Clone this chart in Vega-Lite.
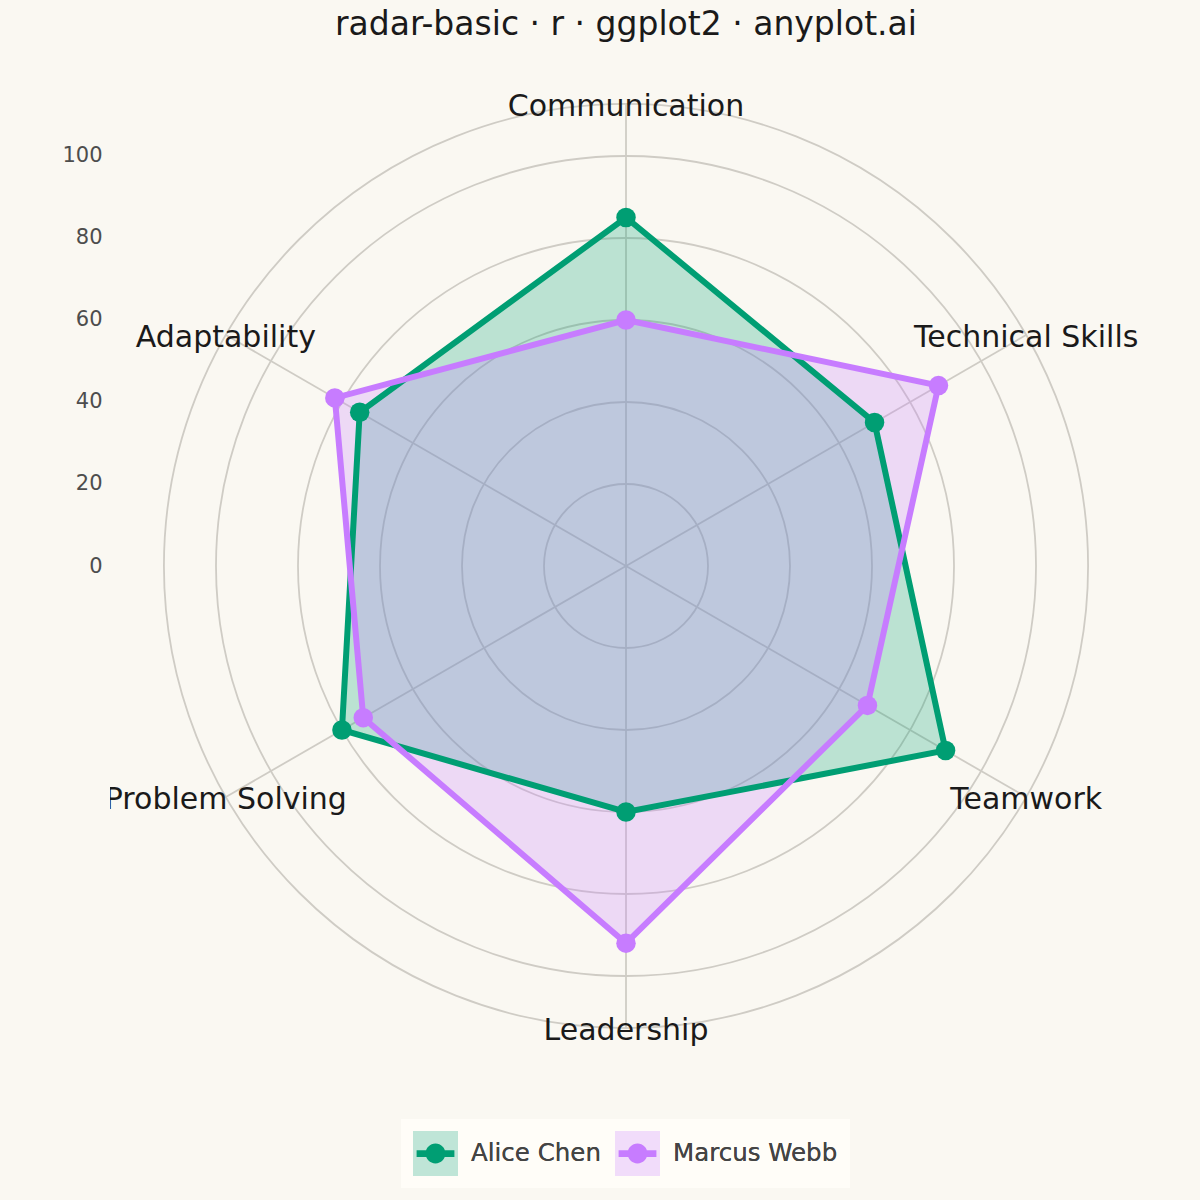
{
  "$schema": "https://vega.github.io/schema/vega-lite/v6.json",
  "width": 1032,
  "height": 1032,
  "autosize": "none",
  "padding": {"left": 110, "top": 50, "right": 58, "bottom": 118},
  "background": "#FAF8F2",
  "config": {"view": {"stroke": null}, "font": "DejaVu Sans"},
  "title": {
    "text": "radar-basic · r · ggplot2 · anyplot.ai",
    "fontSize": 33,
    "fontWeight": "normal",
    "color": "#1A1A1A",
    "anchor": "middle",
    "offset": 8
  },
  "datasets": {
    "scores": [
      {"person": "Alice Chen", "skill": "Communication", "score": 85},
      {"person": "Alice Chen", "skill": "Technical Skills", "score": 70},
      {"person": "Alice Chen", "skill": "Teamwork", "score": 90},
      {"person": "Alice Chen", "skill": "Leadership", "score": 60},
      {"person": "Alice Chen", "skill": "Problem Solving", "score": 80},
      {"person": "Alice Chen", "skill": "Adaptability", "score": 75},
      {"person": "Marcus Webb", "skill": "Communication", "score": 60},
      {"person": "Marcus Webb", "skill": "Technical Skills", "score": 88},
      {"person": "Marcus Webb", "skill": "Teamwork", "score": 68},
      {"person": "Marcus Webb", "skill": "Leadership", "score": 92},
      {"person": "Marcus Webb", "skill": "Problem Solving", "score": 74},
      {"person": "Marcus Webb", "skill": "Adaptability", "score": 82}
    ],
    "skills": [
      {"skill": "Communication"},
      {"skill": "Technical Skills"},
      {"skill": "Teamwork"},
      {"skill": "Leadership"},
      {"skill": "Problem Solving"},
      {"skill": "Adaptability"}
    ],
    "rings": [{"r": 20}, {"r": 40}, {"r": 60}, {"r": 80}, {"r": 100}, {"r": 112.7}]
  },
  "layer": [
    {
      "data": {"name": "rings"},
      "mark": {"type": "arc", "filled": false, "stroke": "#CFCCC5", "strokeWidth": 1.8, "theta": 0, "theta2": 6.2832},
      "encoding": {
        "radius": {
          "field": "r",
          "type": "quantitative",
          "stack": null,
          "scale": {"type": "linear", "domain": [0, 125.85], "range": [0, 516]},
          "legend": null
        }
      }
    },
    {
      "data": {"name": "skills"},
      "transform": [
        {"calculate": "indexof(['Communication','Technical Skills','Teamwork','Leadership','Problem Solving','Adaptability'], datum.skill) * PI / 3", "as": "ang"},
        {"calculate": "112.7 * sin(datum.ang)", "as": "lx"},
        {"calculate": "112.7 * cos(datum.ang)", "as": "ly"}
      ],
      "layer": [
        {
          "mark": {"type": "rule", "stroke": "#CFCCC5", "strokeWidth": 1.8},
          "encoding": {
            "x": {"field": "lx", "type": "quantitative", "scale": {"domain": [-125.85, 125.85], "nice": false, "zero": false}, "axis": null},
            "y": {
              "field": "ly",
              "type": "quantitative",
              "scale": {"domain": [-125.85, 125.85], "nice": false, "zero": false},
              "axis": {
                "title": null,
                "values": [0, 20, 40, 60, 80, 100],
                "labelFontSize": 21,
                "labelColor": "#4D4D4D",
                "labelPadding": 8,
                "ticks": false,
                "domain": false,
                "grid": false
              }
            },
            "x2": {"datum": 0},
            "y2": {"datum": 0}
          }
        }
      ]
    },
    {
      "data": {"name": "scores"},
      "transform": [
        {"calculate": "indexof(['Communication','Technical Skills','Teamwork','Leadership','Problem Solving','Adaptability'], datum.skill)", "as": "i"},
        {"calculate": "datum.score * sin(datum.i * PI / 3)", "as": "px"},
        {"calculate": "datum.score * cos(datum.i * PI / 3)", "as": "py"}
      ],
      "encoding": {
        "x": {"field": "px", "type": "quantitative", "scale": {"domain": [-125.85, 125.85], "nice": false, "zero": false}, "axis": null},
        "y": {"field": "py", "type": "quantitative", "scale": {"domain": [-125.85, 125.85], "nice": false, "zero": false}},
        "order": {"field": "i", "type": "quantitative"},
        "detail": {"field": "person", "type": "nominal"}
      },
      "layer": [
        {
          "mark": {"type": "line", "interpolate": "linear-closed", "fillOpacity": 0.25, "strokeWidth": 0, "strokeOpacity": 0},
          "encoding": {
            "fill": {
              "field": "person",
              "type": "nominal",
              "scale": {"domain": ["Alice Chen", "Marcus Webb"], "range": ["#009E73", "#C77CFF"]},
              "legend": {
                "title": null,
                "orient": "none",
                "legendX": 291,
                "legendY": 1069,
                "direction": "horizontal",
                "symbolType": "square",
                "symbolSize": 2025,
                "symbolOpacity": 0.25,
                "symbolStrokeWidth": 0,
                "labelFontSize": 24.5,
                "labelColor": "#444444",
                "labelOffset": 13,
                "labelLimit": 400,
                "columnPadding": 14,
                "padding": 12,
                "fillColor": "#FFFDF8",
                "zindex": 0
              }
            }
          }
        },
        {
          "mark": {"type": "line", "interpolate": "linear-closed", "strokeWidth": 6},
          "encoding": {
            "stroke": {
              "field": "person",
              "type": "nominal",
              "scale": {"range": ["#009E73", "#C77CFF"]},
              "legend": null
            }
          }
        },
        {
          "mark": {"type": "circle", "size": 380, "opacity": 1},
          "encoding": {
            "color": {
              "field": "person",
              "type": "nominal",
              "scale": {"range": ["#009E73", "#C77CFF"]},
              "legend": {
                "title": null,
                "orient": "none",
                "legendX": 291,
                "legendY": 1069,
                "direction": "horizontal",
                "symbolType": "M-0.84,-0.15H0.84V0.15H-0.84Z M-0.44,0A0.44,0.44,0,1,1,0.44,0A0.44,0.44,0,1,1,-0.44,0Z",
                "symbolSize": 2025,
                "symbolOpacity": 1,
                "symbolStrokeWidth": 0,
                "labelFontSize": 24.5,
                "labelColor": "#444444",
                "labelOffset": 13,
                "labelLimit": 400,
                "columnPadding": 14,
                "padding": 12,
                "zindex": 1
              }
            }
          }
        }
      ]
    },
    {
      "data": {"name": "skills"},
      "transform": [
        {"calculate": "indexof(['Communication','Technical Skills','Teamwork','Leadership','Problem Solving','Adaptability'], datum.skill) * PI / 3", "as": "ang"},
        {"calculate": "112.7 * sin(datum.ang)", "as": "lx"},
        {"calculate": "112.7 * cos(datum.ang)", "as": "ly"}
      ],
      "mark": {"type": "text", "fontSize": 30, "color": "#1A1A1A", "align": "center", "baseline": "middle", "dy": 3, "clip": true},
      "encoding": {
        "x": {"field": "lx", "type": "quantitative", "scale": {"domain": [-125.85, 125.85], "nice": false, "zero": false}},
        "y": {"field": "ly", "type": "quantitative", "scale": {"domain": [-125.85, 125.85], "nice": false, "zero": false}},
        "text": {"field": "skill"}
      }
    }
  ]
}
